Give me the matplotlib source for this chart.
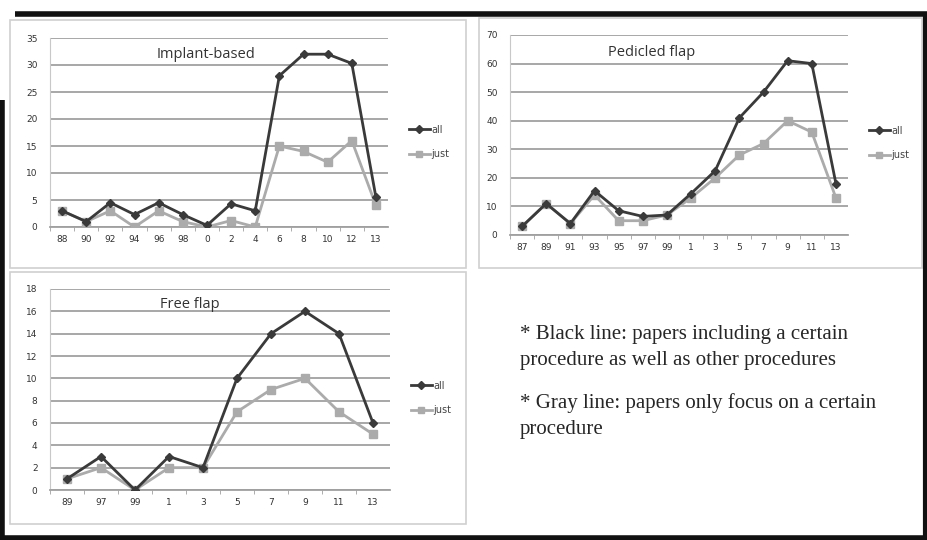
import matplotlib
matplotlib.use("Agg")
import matplotlib.pyplot as plt
from matplotlib.patches import Rectangle
from matplotlib.lines import Line2D


IMPLANT_YEARS = ["88", "90", "92", "94", "96", "98", "0", "2", "4", "6", "8", "10", "12", "13"]
IMPLANT_ALL = [3, 1, 4.5, 2.3, 4.5, 2.3, 0.3, 4.3, 3, 28, 32, 32, 30.3, 5.5]
IMPLANT_JUST = [3, 1, 3, 0, 3, 1, 0, 1.2, 0, 15, 14, 12, 16, 4]

PEDICLED_YEARS = ["87", "89", "91", "93", "95", "97", "99", "1", "3", "5", "7", "9", "11", "13"]
PEDICLED_ALL = [3, 11, 4, 15.5, 8.5, 6.5, 7, 14.5, 22.5, 41, 50, 61, 60, 18]
PEDICLED_JUST = [3, 11, 4, 14, 5, 5, 7, 13, 20, 28, 32, 40, 36, 13]

FREE_YEARS = ["89", "97", "99", "1", "3", "5", "7", "9", "11", "13"]
FREE_ALL = [1, 3, 0, 3, 2, 10, 14, 16, 14, 6]
FREE_JUST = [1, 2, 0, 2, 2, 7, 9, 10, 7, 5]

NOTES = [
    "* Black line: papers including a certain\nprocedure as well as other procedures",
    "* Gray line: papers only focus on a certain\nprocedure",
]

W, H = 927, 540
DARK = "#3a3a3a"
LIGHT = "#ababab"
GRID = "#a0a0a0"
SANS = ["Open Sans", "DejaVu Sans"]


def fx(px):
    return px / W


def fy(py):
    return 1 - py / H


def panel(fig, box, years, all_vals, just_vals, ymax, ystep, title, title_xy, legend_xy):
    left, top, right, bottom = box
    ax = fig.add_axes([fx(left), fy(bottom), fx(right - left), fy(top) - fy(bottom)])
    x = list(range(len(years)))
    ax.plot(x, all_vals, color=DARK, lw=2, marker="D", ms=4.5, label="all", zorder=4)
    ax.plot(x, just_vals, color=LIGHT, lw=2, marker="s", ms=5.5, label="just", zorder=3)
    ax.set_xlim(-0.5, len(years) - 0.5)
    ax.set_ylim(0, ymax)
    ax.set_yticks(range(0, ymax + 1, ystep))
    ax.set_xticks(x)
    ax.set_xticklabels(years)
    ax.set_xticks([i + 0.5 for i in x[:-1]] + [-0.5], minor=True)
    ax.tick_params(axis="x", which="major", length=0, pad=6, labelsize=6.5, labelcolor="#333333")
    ax.tick_params(axis="x", which="minor", length=3, color=GRID, direction="out")
    ax.tick_params(axis="y", length=0, pad=9, labelsize=6.5, labelcolor="#333333")
    ax.yaxis.grid(True, color=GRID, lw=1.3)
    ax.set_axisbelow(True)
    for side in ["top", "right"]:
        ax.spines[side].set_visible(False)
    ax.spines["left"].set_color("#c8c8c8")
    ax.spines["bottom"].set_color(GRID)
    ax.spines["bottom"].set_linewidth(1.3)
    ax.text(fx(title_xy[0]), fy(title_xy[1]), title, transform=fig.transFigure,
            ha="center", va="center", fontsize=10.5, color="#333333", family=SANS)
    handles = [
        Line2D([], [], color=DARK, lw=2, marker="D", ms=4),
        Line2D([], [], color=LIGHT, lw=2, marker="s", ms=5),
    ]
    fig.legend(handles, ["all", "just"], loc="center left",
               bbox_to_anchor=(fx(legend_xy[0]), fy(legend_xy[1])),
               frameon=False, fontsize=7, handlelength=2.2, handletextpad=0.1,
               labelspacing=1.5, labelcolor="#444444")
    return ax


def main():
    fig = plt.figure(figsize=(W / 100, H / 100), dpi=100)
    fig.patch.set_facecolor("white")

    # panel boxes
    for (l, t, r, b) in [(10, 20, 466, 268), (479, 18, 922, 268), (10, 272, 466, 524)]:
        fig.add_artist(Rectangle((fx(l), fy(b)), fx(r - l), fy(t) - fy(b),
                                 transform=fig.transFigure, fill=False,
                                 ec="#d0d0d0", lw=1.2))

    panel(fig, (50, 38, 388, 227), IMPLANT_YEARS, IMPLANT_ALL, IMPLANT_JUST, 35, 5,
          "Implant-based", (206, 55), (400, 142))
    panel(fig, (510, 35, 848, 235), PEDICLED_YEARS, PEDICLED_ALL, PEDICLED_JUST, 70, 10,
          "Pedicled flap", (652, 52), (860, 143))
    panel(fig, (50, 289, 390, 490), FREE_YEARS, FREE_ALL, FREE_JUST, 18, 2,
          "Free flap", (190, 304), (402, 398))

    fig.text(fx(520), fy(347), NOTES[0], ha="left", va="center", fontsize=15,
             family="Liberation Serif", color="#262626", linespacing=1.5)
    fig.text(fx(520), fy(416), NOTES[1], ha="left", va="center", fontsize=15,
             family="Liberation Serif", color="#262626", linespacing=1.5)

    # scan frame
    frame = dict(transform=fig.transFigure, color="#111111", solid_capstyle="butt")
    fig.add_artist(Line2D([fx(15), fx(927)], [fy(14), fy(14)], lw=4, **frame))
    fig.add_artist(Line2D([fx(2), fx(2)], [fy(100), fy(540)], lw=4, **frame))
    fig.add_artist(Line2D([fx(0), fx(927)], [fy(538), fy(538)], lw=4, **frame))
    fig.add_artist(Line2D([fx(925), fx(925)], [fy(14), fy(540)], lw=3, **frame))

    fig.savefig("out.png", dpi=100)
    plt.close(fig)


if __name__ == "__main__":
    main()
